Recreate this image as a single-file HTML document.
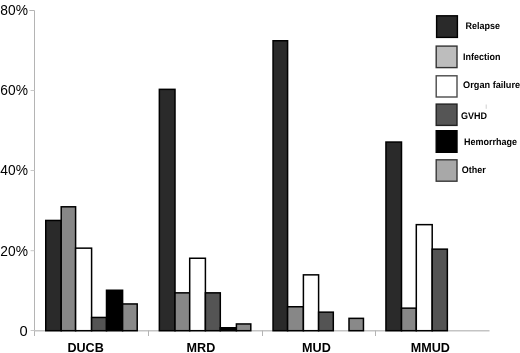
<!DOCTYPE html>
<html><head><meta charset="utf-8"><style>
html,body{margin:0;padding:0;background:#fff;}
body{width:520px;height:353px;overflow:hidden;}
svg{display:block;filter:blur(0.3px);}
text{font-family:"Liberation Sans",sans-serif;fill:#000;}
.yl{font-size:14.7px;}
.cl{font-size:12.6px;font-weight:bold;}
.ll{font-size:9.6px;font-weight:bold;text-rendering:geometricPrecision;}
</style></head><body>
<svg width="520" height="353" viewBox="0 0 520 353">

<line x1="34.5" y1="10.5" x2="34.5" y2="336" stroke="#b4b4b4" stroke-width="1"/>
<line x1="34.5" y1="330.7" x2="489.5" y2="330.7" stroke="#c4c4c4" stroke-width="1.4"/>

<line x1="29.3" y1="10.5" x2="34.5" y2="10.5" stroke="#b4b4b4" stroke-width="1"/>
<line x1="30.6" y1="90.5" x2="34.5" y2="90.5" stroke="#c8c8c8" stroke-width="1"/>
<line x1="30.6" y1="170.5" x2="34.5" y2="170.5" stroke="#c8c8c8" stroke-width="1"/>
<line x1="30.6" y1="250.7" x2="34.5" y2="250.7" stroke="#c8c8c8" stroke-width="1"/>
<line x1="30.6" y1="330.5" x2="34.5" y2="330.5" stroke="#c8c8c8" stroke-width="1"/>
<line x1="148.5" y1="330.5" x2="148.5" y2="336" stroke="#b4b4b4" stroke-width="1"/>
<line x1="262.5" y1="330.5" x2="262.5" y2="336" stroke="#b4b4b4" stroke-width="1"/>
<line x1="375.5" y1="330.5" x2="375.5" y2="336" stroke="#b4b4b4" stroke-width="1"/>
<rect x="45.75" y="220.45" width="15.45" height="110.25" fill="#2a2a2a" stroke="#000" stroke-width="1.5"/>
<rect x="61.20" y="206.80" width="14.40" height="123.90" fill="#878787" stroke="#000" stroke-width="1.5"/>
<rect x="75.60" y="248.15" width="16.00" height="82.55" fill="#ffffff" stroke="#000" stroke-width="1.5"/>
<rect x="91.60" y="317.45" width="14.90" height="13.25" fill="#545454" stroke="#000" stroke-width="1.5"/>
<rect x="106.50" y="290.25" width="16.10" height="40.45" fill="#000000" stroke="#000" stroke-width="1.5"/>
<rect x="122.60" y="303.95" width="14.60" height="26.75" fill="#898989" stroke="#000" stroke-width="1.5"/>
<rect x="159.35" y="89.35" width="15.65" height="241.35" fill="#2a2a2a" stroke="#000" stroke-width="1.5"/>
<rect x="175.00" y="292.85" width="14.70" height="37.85" fill="#878787" stroke="#000" stroke-width="1.5"/>
<rect x="189.70" y="258.25" width="15.70" height="72.45" fill="#ffffff" stroke="#000" stroke-width="1.5"/>
<rect x="205.40" y="292.85" width="14.90" height="37.85" fill="#545454" stroke="#000" stroke-width="1.5"/>
<rect x="220.30" y="327.75" width="16.10" height="2.95" fill="#000000" stroke="#000" stroke-width="1.5"/>
<rect x="236.40" y="323.95" width="14.40" height="6.75" fill="#898989" stroke="#000" stroke-width="1.5"/>
<rect x="273.05" y="40.75" width="14.55" height="289.95" fill="#2a2a2a" stroke="#000" stroke-width="1.5"/>
<rect x="287.60" y="306.75" width="15.80" height="23.95" fill="#878787" stroke="#000" stroke-width="1.5"/>
<rect x="303.40" y="274.85" width="15.20" height="55.85" fill="#ffffff" stroke="#000" stroke-width="1.5"/>
<rect x="318.60" y="312.15" width="14.70" height="18.55" fill="#545454" stroke="#000" stroke-width="1.5"/>
<rect x="349.00" y="318.35" width="14.45" height="12.35" fill="#898989" stroke="#000" stroke-width="1.5"/>
<rect x="385.95" y="142.05" width="15.55" height="188.65" fill="#2a2a2a" stroke="#000" stroke-width="1.5"/>
<rect x="401.50" y="308.15" width="14.80" height="22.55" fill="#878787" stroke="#000" stroke-width="1.5"/>
<rect x="416.30" y="224.65" width="15.90" height="106.05" fill="#ffffff" stroke="#000" stroke-width="1.5"/>
<rect x="432.20" y="249.15" width="15.15" height="81.55" fill="#545454" stroke="#000" stroke-width="1.5"/>
<text x="27.9" y="15.3" text-anchor="end" class="yl" textLength="27.6" lengthAdjust="spacingAndGlyphs">80%</text>
<text x="27.9" y="95.4" text-anchor="end" class="yl" textLength="27.6" lengthAdjust="spacingAndGlyphs">60%</text>
<text x="27.9" y="175.4" text-anchor="end" class="yl" textLength="27.6" lengthAdjust="spacingAndGlyphs">40%</text>
<text x="27.9" y="255.5" text-anchor="end" class="yl" textLength="27.6" lengthAdjust="spacingAndGlyphs">20%</text>
<text x="27.6" y="336.0" text-anchor="end" class="yl">0</text>
<text x="67.4" y="352.1" class="cl">DUCB</text>
<text x="186.6" y="352.1" class="cl">MRD</text>
<text x="302.1" y="352.1" class="cl">MUD</text>
<text x="410.8" y="352.1" class="cl">MMUD</text>
<rect x="436.60" y="15.80" width="20.80" height="21.60" fill="#2a2a2a" stroke="#000" stroke-width="1.4"/>
<text transform="translate(465.6 29.3) scale(0.9375 1)" class="ll">Relapse</text>
<rect x="436.20" y="46.10" width="20.80" height="21.50" fill="#bdbdbd" stroke="#333" stroke-width="1.4"/>
<text transform="translate(463.1 59.5) scale(0.9375 1)" class="ll">Infection</text>
<rect x="436.20" y="75.80" width="20.80" height="21.20" fill="#ffffff" stroke="#4a4a4a" stroke-width="1.4"/>
<text transform="translate(463.1 88.0) scale(0.955 1)" class="ll">Organ failure</text>
<rect x="436.20" y="104.10" width="20.80" height="21.30" fill="#555555" stroke="#222" stroke-width="1.4"/>
<text transform="translate(461.1 118.5) scale(0.9375 1)" class="ll">GVHD</text>
<rect x="436.20" y="130.70" width="20.80" height="21.60" fill="#000000" stroke="#000" stroke-width="1.4"/>
<text transform="translate(464.0 144.9) scale(0.9375 1)" class="ll">Hemorrhage</text>
<rect x="436.20" y="159.80" width="20.80" height="21.40" fill="#a8a8a8" stroke="#383838" stroke-width="1.4"/>
<text transform="translate(461.7 172.9) scale(0.9375 1)" class="ll">Other</text>
<line x1="486.2" y1="104.5" x2="486.2" y2="108.8" stroke="#d0d0d0" stroke-width="1"/>
</svg>
</body></html>
